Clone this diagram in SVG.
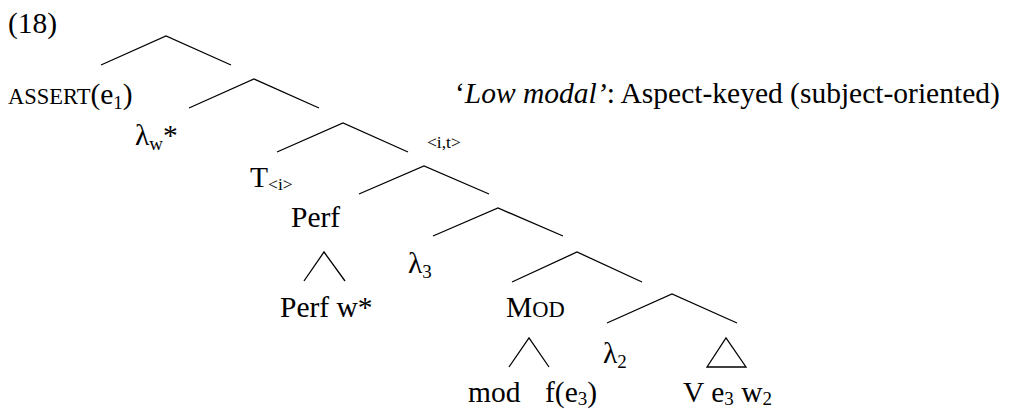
<svg xmlns="http://www.w3.org/2000/svg" width="1013" height="409" viewBox="0 0 1013 409">
<style>
text{font-family:"Liberation Serif","Times New Roman",serif;font-size:29.5px;fill:#000}
.sc{font-size:22.5px}
.sub{font-size:19px}
.sm{font-size:17.5px}
.br{fill:none;stroke:#000;stroke-width:1.3}
</style>
<rect width="1013" height="409" fill="#fff"/>
<text x="8" y="33">(18)</text>
<g id="connectors" class="br">
<polyline points="101,65 166,36 231,65"/>
<polyline points="189,108 254,79 319,108"/>
<polyline points="277,152 343,123 408,152"/>
<polyline points="359,194 424,166 489,194"/>
<polyline points="433,236 498,208 563,236"/>
<polyline points="512,282 577,252 642,282"/>
<polyline points="607,323 672,294 737,323"/>
<polyline points="304,281 324,252 345,281"/>
<polyline points="509,367 529,338 549,367"/>
<polygon points="707,367 726,338 746,367"/>
</g>
<g id="assert"><text x="8" y="104"><tspan class="sc">ASSERT</tspan>(e<tspan class="sub" dy="5">1</tspan><tspan dy="-5">)</tspan></text></g>
<g id="title"><text x="455" y="103">‘<tspan font-style="italic">Low modal’</tspan>: Aspect-keyed (subject-oriented)</text></g>
<g id="lambda-w"><text x="135" y="145">λ<tspan class="sub" dy="5">w</tspan><tspan dy="-5">*</tspan></text></g>
<g id="it"><text class="sm" x="427" y="148">&lt;i,t&gt;</text></g>
<g id="T"><text x="250" y="187">T<tspan class="sm" dy="3">&lt;i&gt;</tspan></text></g>
<g id="perf"><text x="291" y="227">Perf</text></g>
<g id="perfw"><text x="280" y="317">Perf w*</text></g>
<g id="lambda3"><text x="408" y="273">λ<tspan class="sub" dy="5">3</tspan></text></g>
<g id="mod"><text x="506" y="317">M<tspan class="sc">OD</tspan></text></g>
<g id="modf"><text x="468" y="402">mod</text><text x="545" y="402">f(e<tspan class="sub" dy="3">3</tspan><tspan dy="-3">)</tspan></text></g>
<g id="lambda2"><text x="603" y="363">λ<tspan class="sub" dy="5">2</tspan></text></g>
<g id="vew"><text x="683" y="402">V e<tspan class="sub" dy="3">3</tspan><tspan dy="-3"> w</tspan><tspan class="sub" dy="3">2</tspan></text></g>
</svg>
